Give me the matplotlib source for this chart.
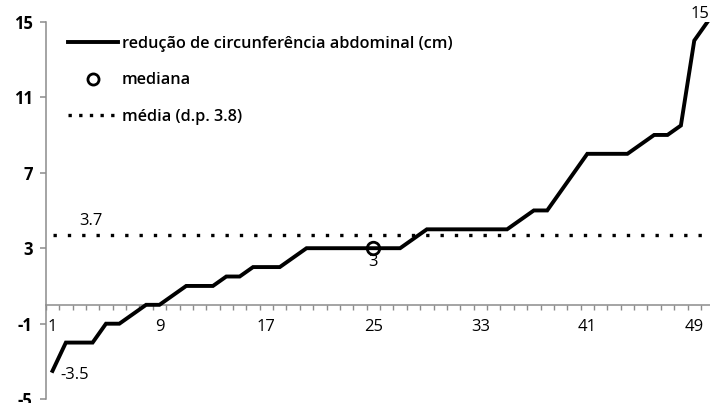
import matplotlib
matplotlib.use('Agg')
import matplotlib.pyplot as plt
from matplotlib.lines import Line2D
import numpy as np

plt.rcParams.update({
    'font.family': ['Open Sans', 'DejaVu Sans'],
    'font.size': 12,
})

# sorted reduction of abdominal circumference (cm), one value per participant
participants = np.arange(1, 51)
reducao = [-3.5, -2, -2, -2, -1, -1, -0.5, 0, 0, 0.5,
           1, 1, 1, 1.5, 1.5, 2, 2, 2, 2.5, 3,
           3, 3, 3, 3, 3, 3, 3, 3.5, 4, 4,
           4, 4, 4, 4, 4, 4.5, 5, 5, 6, 7,
           8, 8, 8, 8, 8.5, 9, 9, 9.5, 14, 15]
media = 3.7
mediana_x, mediana_y = 25, 3
xtick_labels = [1, 9, 17, 25, 33, 41, 49]
ytick_labels = [-5, -1, 3, 7, 11, 15]

W, H = 710, 403
fig = plt.figure(figsize=(W / 100, H / 100), dpi=100)
# axis placed so that categories sit between tick marks, like the original
px_unit = 13.37
left_px = 52.5 - 0.5 * px_unit
top_px, bot_px = 21.7, 399.2
ax = fig.add_axes([left_px / W, (H - bot_px) / H,
                   50 * px_unit / W, (bot_px - top_px) / H])

ax.plot(participants, reducao, color='black', lw=2.8, solid_joinstyle='miter',
        zorder=3)
ax.plot([1, 50], [media, media], color='black', lw=2.4,
        linestyle=(0, (1, 3.3)), zorder=2)
ax.plot([mediana_x], [mediana_y], marker='o', ms=9, mfc='none', mec='black',
        mew=2, zorder=4)

ax.set_xlim(0.5, 50.5)
ax.set_ylim(-5, 15)

# labels on points
ax.annotate(f'{reducao[0]}', (1, reducao[0]), xytext=(6, -3),
            textcoords='offset points', ha='left', va='center', fontsize=12)
ax.annotate(f'{reducao[-1]:g}', (50, reducao[-1]), xytext=(1, 0),
            textcoords='offset points', ha='right', va='bottom', fontsize=12)
ax.annotate(f'{mediana_y}', (mediana_x, mediana_y), xytext=(0, -10),
            textcoords='offset points', ha='center', va='center', fontsize=12)
ax.annotate(f'{media}', (3.85, media), xytext=(0, 10),
            textcoords='offset points', ha='center', va='center', fontsize=12)

# axes styling
for s in ['top', 'right']:
    ax.spines[s].set_visible(False)
ax.spines['bottom'].set_position(('data', 0))
for s in ['left', 'bottom']:
    ax.spines[s].set_color('#8c8c8c')
    ax.spines[s].set_linewidth(1.1)

ax.set_yticks(ytick_labels)
ax.set_yticklabels([str(v) for v in ytick_labels], fontweight='bold',
                   fontsize=12)
ax.tick_params(axis='y', direction='out', length=4.5, width=1.1,
               color='#8c8c8c', pad=5)

ax.set_xticks(xtick_labels)
ax.set_xticklabels([str(v) for v in xtick_labels], fontsize=12)
ax.set_xticks(np.arange(0.5, 51, 1), minor=True)
ax.tick_params(axis='x', which='major', length=0, pad=10)
ax.tick_params(axis='x', which='minor', direction='out', length=3.5,
               width=1.0, color='#8c8c8c')

handles = [
    Line2D([], [], color='black', lw=2.8),
    Line2D([], [], color='none', marker='o', ms=8, mfc='none', mec='black',
           mew=2),
    Line2D([], [], color='black', lw=2.4, linestyle=(0, (1, 2.2))),
]
labels = ['redução de circunferência abdominal (cm)', 'mediana',
          'média (d.p. 3.8)']
ax.legend(handles, labels, loc='upper left', bbox_to_anchor=(0.033, 0.962),
          frameon=False, borderaxespad=0, borderpad=0, handlelength=3.1,
          handletextpad=0.2, labelspacing=1.25,
          prop={'weight': 'semibold', 'size': 11.7})

fig.savefig('out.png', dpi=100)
